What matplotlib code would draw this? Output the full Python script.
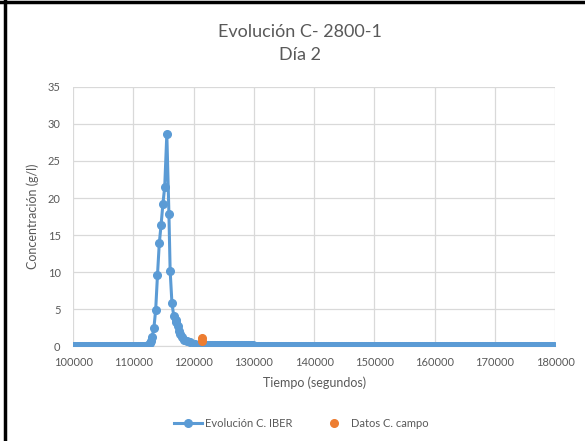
import matplotlib
matplotlib.use("Agg")
import matplotlib.pyplot as plt
from matplotlib.lines import Line2D
import numpy as np

plt.rcParams["font.family"] = ["Lato", "DejaVu Sans"]

blue = "#5B9BD5"
orange = "#ED7D31"
grey_text = "#595959"
grid_col = "#D9D9D9"

# flat stretches (time step ~300 s)
base_start_t = np.arange(100000, 112500, 300)
base_start_c = np.full(len(base_start_t), 0.05)

# pulse around 115000 s
peak_t = [112500, 112700, 112900, 113100, 113400, 113700, 114000, 114300,
          114600, 114900, 115200, 115550, 115900, 116100, 116400, 116700,
          117000, 117120, 117330, 117570, 117780, 118120, 118450, 118900,
          119450, 120280]
peak_c = [0.15, 0.4, 0.7, 1.2, 2.4, 4.9, 9.6, 13.9,
          16.4, 19.2, 21.5, 28.6, 17.8, 10.2, 5.8, 4.1,
          3.6, 3.2, 2.7, 2.0, 1.6, 1.2, 0.9, 0.67,
          0.5, 0.36]

mid_t = np.arange(120600, 130000, 300)
mid_c = np.full(len(mid_t), 0.2)

end_t = np.arange(130000, 180001, 300)
end_c = np.full(len(end_t), 0.08)

iber_t = np.concatenate([base_start_t, peak_t, mid_t, end_t])
iber_c = np.concatenate([base_start_c, peak_c, mid_c, end_c])

campo_t = [121400, 121400]
campo_c = [1.1, 0.7]

fig = plt.figure(figsize=(5.85, 4.41), dpi=100)
ax = fig.add_axes([0.125, 0.215, 0.824, 0.588])

ax.plot(iber_t, iber_c, color=blue, lw=2.2, marker="o", ms=5.5,
        label="Evolución C. IBER", zorder=3)
ax.plot(campo_t, campo_c, color=orange, lw=0, marker="o", ms=5.5,
        label="Datos C. campo", zorder=4)

ax.set_xlim(100000, 180000)
ax.set_ylim(0, 35)
ax.set_xticks(np.arange(100000, 180001, 10000))
ax.set_yticks(np.arange(0, 36, 5))
ax.grid(True, color=grid_col, lw=0.9)
ax.set_axisbelow(True)
for s in ["top", "right", "left"]:
    ax.spines[s].set_visible(False)
ax.spines["bottom"].set_color(grid_col)
ax.tick_params(length=0, labelsize=8, colors=grey_text)
ax.tick_params(axis="x", pad=8)
ax.tick_params(axis="y", pad=9)

ax.set_xlabel("Tiempo (segundos)", fontsize=9, color=grey_text, labelpad=6)
ax.set_ylabel("Concentración (g/l)", fontsize=9, color=grey_text, labelpad=6)

fig.text(0.513, 0.927, "Evolución C- 2800-1", ha="center", va="center",
         fontsize=13, color=grey_text)
fig.text(0.513, 0.875, "Día 2", ha="center", va="center",
         fontsize=13, color=grey_text)

fig.legend(loc="center", bbox_to_anchor=(0.515, 0.04), ncol=2, frameon=False,
           fontsize=8, labelcolor=grey_text, columnspacing=2.5,
           handlelength=2.5, handletextpad=0.3)

# black frame on left and top edges
fig.add_artist(Line2D([0.008, 0.008], [0, 1], color="black", lw=2.5,
                      transform=fig.transFigure))
fig.add_artist(Line2D([0, 1], [0.996, 0.996], color="black", lw=2.5,
                      transform=fig.transFigure))

fig.savefig("out.png", dpi=100)
